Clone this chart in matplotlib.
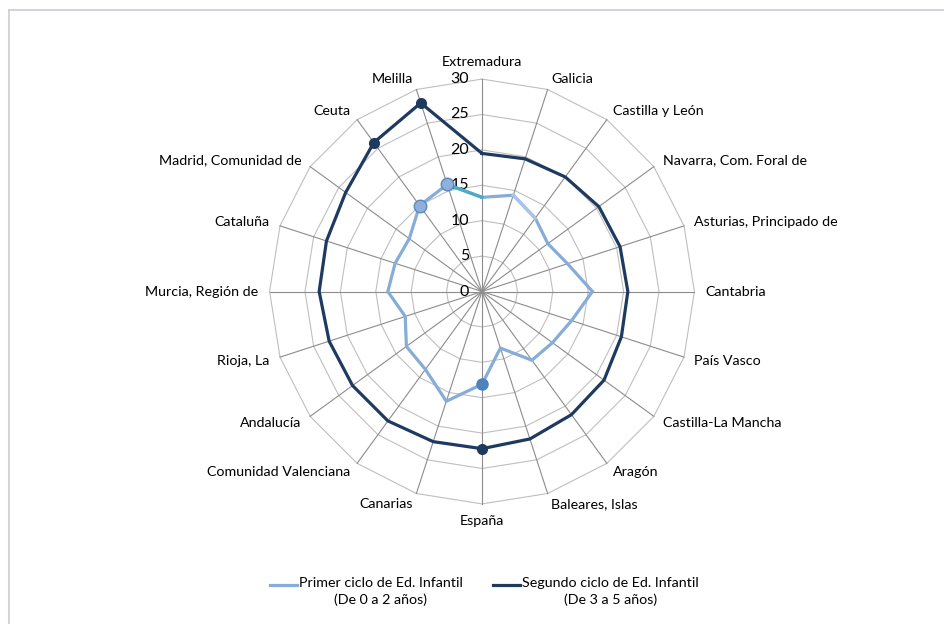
import matplotlib
matplotlib.use('Agg')
import matplotlib.pyplot as plt
import numpy as np
from matplotlib.lines import Line2D

plt.rcParams['font.family'] = ['Lato', 'DejaVu Sans']

categories = ['Extremadura', 'Galicia', 'Castilla y León', 'Navarra, Com. Foral de',
              'Asturias, Principado de', 'Cantabria', 'País Vasco', 'Castilla-La Mancha',
              'Aragón', 'Baleares, Islas', 'España', 'Canarias', 'Comunidad Valenciana',
              'Andalucía', 'Rioja, La', 'Murcia, Región de', 'Cataluña',
              'Madrid, Comunidad de', 'Ceuta', 'Melilla']
primer = [13.3, 14.3, 12.8, 11.5, 12.7, 15.6, 13.3, 12.3, 12.0, 8.4,
          13.1, 16.3, 13.6, 13.2, 11.4, 13.3, 12.9, 12.7, 15.0, 15.9]
segundo = [19.5, 19.7, 20.0, 20.4, 20.5, 20.6, 20.7, 21.3, 21.5, 21.9,
           22.2, 22.3, 22.6, 22.6, 22.7, 23.0, 23.1, 23.8, 26.0, 28.0]
rings = [5, 10, 15, 20, 25, 30]
tick_labels = ['0', '5', '10', '15', '20', '25', '30']
label_primer = 'Primer ciclo de Ed. Infantil\n(De 0 a 2 años)'
label_segundo = 'Segundo ciclo de Ed. Infantil\n(De 3 a 5 años)'

W, H = 945, 624
cx, cy = 482, 291.5
px = 7.08  # pixels per unit

fig = plt.figure(figsize=(W / 100, H / 100), dpi=100)
ax = fig.add_axes([0, 0, 1, 1])
ax.set_xlim(-cx / px, (W - cx) / px)
ax.set_ylim(-(H - cy) / px, cy / px)
ax.axis('off')

n = len(categories)
theta = np.arange(n) * 2 * np.pi / n


def xy(r, t):
    r = np.asarray(r, dtype=float)
    return r * np.sin(t), r * np.cos(t)


# grid rings
tc = np.append(theta, theta[0])
for r in rings:
    gx, gy = xy(np.full(n + 1, r), tc)
    ax.plot(gx, gy, color='#bfbfbf', lw=0.8, zorder=1)
# spokes
for t in theta:
    sx, sy = xy([0, 30], np.array([t, t]))
    ax.plot(sx, sy, color='#8c8c8c', lw=0.8, zorder=1)

# radial tick labels
for i, lab in enumerate(tick_labels):
    ax.text(-13 / px, i * 5, lab, ha='right', va='center', fontsize=11.5, color='black')

# category labels
fs = 10.3
off = 30 + 11 / px
for t, lab in zip(theta, categories):
    s, c = np.sin(t), np.cos(t)
    if abs(s) < 0.01:
        ha = 'center'
        va = 'bottom' if c > 0 else 'top'
    else:
        ha = 'left' if s > 0 else 'right'
        va = 'center'
    ax.text(off * s, off * c, lab, ha=ha, va=va, fontsize=fs, color='black')

dark = '#1f3a5f'
light = '#86acd8'

# series
x2, y2 = xy(np.append(segundo, segundo[0]), tc)
ax.plot(x2, y2, color=dark, lw=2.3, zorder=3, solid_joinstyle='miter')

x1, y1 = xy(np.append(primer, primer[0]), tc)
ax.plot(x1, y1, color=light, lw=2.3, zorder=3, solid_joinstyle='miter')
# highlighted segments
ax.plot(x1[1:3], y1[1:3], color='#a9c4e6', lw=2.3, zorder=3)
ax.plot(x1[-2:], y1[-2:], color='#4bacc6', lw=2.3, zorder=3)

# markers
for idx in [10, 18, 19]:
    mx, my = xy(segundo[idx], theta[idx])
    ax.plot(mx, my, 'o', color=dark, ms=7, zorder=4)
for idx in [18, 19]:
    mx, my = xy(primer[idx], theta[idx])
    ax.plot(mx, my, 'o', mfc='#8eb0da', mec='#5b87c0', mew=1, ms=9, zorder=4)
mx, my = xy(primer[10], theta[10])
ax.plot(mx, my, 'o', color='#4f81bd', ms=8, zorder=4)

# legend
def fx(p):
    return p / W


def fy(p):
    return 1 - p / H


fig.add_artist(Line2D([fx(270), fx(297)], [fy(585), fy(585)], color=light, lw=2.3))
fig.text(fx(299), fy(577), label_primer, ha='left', va='top', multialignment='center',
         fontsize=fs, linespacing=1.4, transform=fig.transFigure)
fig.add_artist(Line2D([fx(493), fx(520)], [fy(585), fy(585)], color=dark, lw=2.3))
fig.text(fx(522), fy(577), label_segundo, ha='left', va='top', multialignment='center',
         fontsize=fs, linespacing=1.4, transform=fig.transFigure)

# outer border (top and left visible)
fig.add_artist(Line2D([fx(9.5), fx(9.5)], [fy(10), 0], color='#c9ccd9', lw=1.2))
fig.add_artist(Line2D([fx(9.5), 1], [fy(10), fy(10)], color='#c9ccd9', lw=1.2))

fig.savefig('out.png', dpi=100)
